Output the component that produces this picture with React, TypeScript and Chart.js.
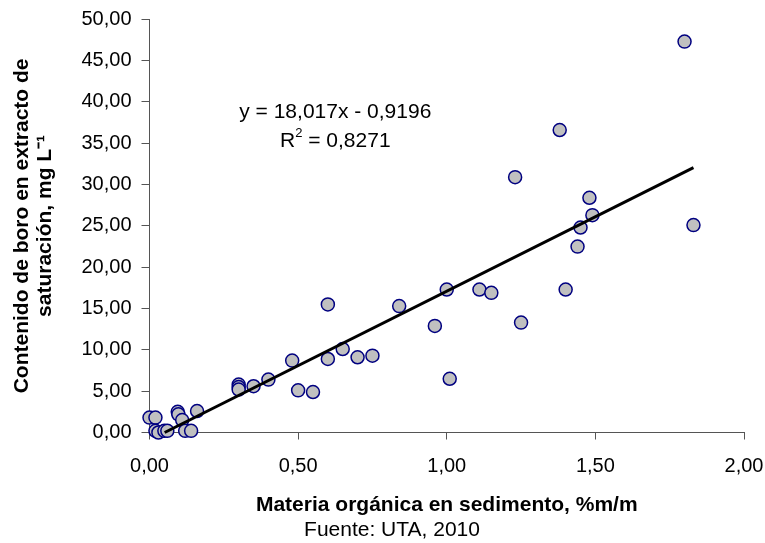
import React, { useEffect, useRef } from 'react';
import { Chart, registerables } from 'chart.js';

Chart.register(...registerables);

// Materia orgánica en sedimento (%m/m)
const organicMatter = [
  0.0, 0.02, 0.02, 0.03, 0.05, 0.06, 0.095, 0.097, 0.11, 0.12, 0.14, 0.16,
  0.3, 0.3, 0.3, 0.35, 0.4, 0.48, 0.5, 0.55, 0.6, 0.6, 0.65, 0.7, 0.75,
  0.84, 0.96, 1.0, 1.01, 1.11, 1.15, 1.23, 1.25, 1.38, 1.4, 1.44, 1.45,
  1.48, 1.49, 1.8, 1.83,
];
// Contenido de boro en extracto de saturación (mg/L)
const boron = [
  1.8, 1.8, 0.2, 0.0, 0.2, 0.2, 2.5, 2.2, 1.5, 0.2, 0.2, 2.6,
  5.8, 5.5, 5.2, 5.6, 6.4, 8.7, 5.1, 4.9, 8.9, 15.5, 10.1, 9.1, 9.3,
  15.3, 12.9, 17.3, 6.5, 17.3, 16.9, 30.9, 13.3, 36.6, 17.3, 22.5, 24.8,
  28.4, 26.3, 47.3, 25.1,
];
const xTicks = [0, 0.5, 1, 1.5, 2];
const yTicks = [0, 5, 10, 15, 20, 25, 30, 35, 40, 45, 50];
const slope = 18.017;
const intercept = -0.9196;
const rSquared = 0.8271;
const trendX = [0.051, 1.83];

const xTitle = 'Materia orgánica en sedimento, %m/m';
const yTitle = ['Contenido de boro en extracto de', 'saturación, mg L⁻¹'];
const sourceText = 'Fuente: UTA, 2010';

const FONT = "'Liberation Sans', Arial, Helvetica, sans-serif";
const fmt = (v: number, d: number) => v.toFixed(d).replace('.', ',');

const annotations = {
  id: 'annotations',
  afterDraw(chart: any) {
    const { ctx } = chart;
    const xs = chart.scales.x;
    const ys = chart.scales.y;
    ctx.save();
    ctx.fillStyle = '#000';
    ctx.textBaseline = 'middle';
    // equation
    const cx = xs.getPixelForValue(0.625);
    const cy1 = ys.getPixelForValue(38.7);
    const cy2 = ys.getPixelForValue(35.2);
    ctx.font = `21px ${FONT}`;
    ctx.textAlign = 'center';
    const eq = `y = ${fmt(slope, 3)}x - ${fmt(-intercept, 4)}`;
    ctx.fillText(eq, cx, cy1);
    // R²
    const big = `21px ${FONT}`;
    const small = `13px ${FONT}`;
    ctx.font = big;
    const wR = ctx.measureText('R').width;
    const rest = ` = ${fmt(rSquared, 4)}`;
    const wRest = ctx.measureText(rest).width;
    ctx.font = small;
    const w2 = ctx.measureText('2').width;
    const total = wR + w2 + wRest;
    let x0 = cx - total / 2;
    ctx.textAlign = 'left';
    ctx.font = big;
    ctx.fillText('R', x0, cy2);
    x0 += wR;
    ctx.font = small;
    ctx.fillText('2', x0, cy2 - 8);
    x0 += w2;
    ctx.font = big;
    ctx.fillText(rest, x0, cy2);
    // source
    ctx.textAlign = 'center';
    ctx.font = `21px ${FONT}`;
    ctx.fillText(sourceText, 392, 530);
    ctx.restore();
  },
};

export default function App() {
  const ref = useRef<HTMLCanvasElement>(null);
  useEffect(() => {
    if (!ref.current) return;
    const points = organicMatter.map((x, i) => ({ x, y: boron[i] }));
    const trend = trendX.map((x) => ({ x, y: slope * x + intercept }));
    const chart = new Chart(ref.current, {
      type: 'scatter',
      data: {
        datasets: [
          {
            type: 'line',
            data: trend,
            borderColor: '#000',
            borderWidth: 3,
            pointRadius: 0,
            fill: false,
            clip: false,
            order: 0,
          } as any,
          {
            data: points,
            backgroundColor: '#C0C0C0',
            borderColor: '#000080',
            borderWidth: 1.5,
            pointRadius: 6.5,
            clip: false,
            order: 1,
          } as any,
        ],
      },
      options: {
        animation: false,
        responsive: true,
        maintainAspectRatio: false,
        layout: { padding: { top: 19.3, right: 21, bottom: 0, left: 0 } },
        plugins: { legend: { display: false }, tooltip: { enabled: false } },
        scales: {
          x: {
            type: 'linear',
            min: 0,
            max: 2,
            afterBuildTicks: (s: any) => {
              s.ticks = xTicks.map((value) => ({ value }));
            },
            afterFit: (s: any) => {
              s.height = 110.5;
              s.paddingLeft = 0;
              s.paddingRight = 0;
            },
            ticks: {
              color: '#000',
              font: { family: FONT, size: 20 },
              padding: 15,
              maxRotation: 0,
              callback: (v: any) => fmt(Number(v), 2),
            },
            grid: { display: true, drawOnChartArea: false, drawTicks: true, tickLength: 7, color: '#555' },
            border: { display: true, color: '#555', width: 1 },
            title: {
              display: true,
              text: xTitle,
              color: '#000',
              font: { family: FONT, size: 21, weight: 'bold', lineHeight: 1.1 },
              padding: { top: 0, bottom: 26 },
            },
          },
          y: {
            type: 'linear',
            min: 0,
            max: 50,
            afterBuildTicks: (s: any) => {
              s.ticks = yTicks.map((value) => ({ value }));
            },
            afterFit: (s: any) => {
              s.width = 149.5;
              s.paddingTop = 0;
              s.paddingBottom = 0;
            },
            ticks: {
              color: '#000',
              font: { family: FONT, size: 20 },
              padding: 10,
              callback: (v: any) => fmt(Number(v), 2),
            },
            grid: { display: true, drawOnChartArea: false, drawTicks: true, tickLength: 8, color: '#555' },
            border: { display: true, color: '#555', width: 1 },
            title: {
              display: true,
              text: yTitle,
              color: '#000',
              font: { family: FONT, size: 21, weight: 'bold', lineHeight: 1.1 },
              padding: { top: 10.5, bottom: 0 },
            },
          },
        },
      },
      plugins: [annotations],
    });
    return () => chart.destroy();
  }, []);
  return (
    <div style={{ position: 'fixed', left: 0, top: 0, width: 765, height: 543, background: '#fff' }}>
      <canvas ref={ref} />
    </div>
  );
}
